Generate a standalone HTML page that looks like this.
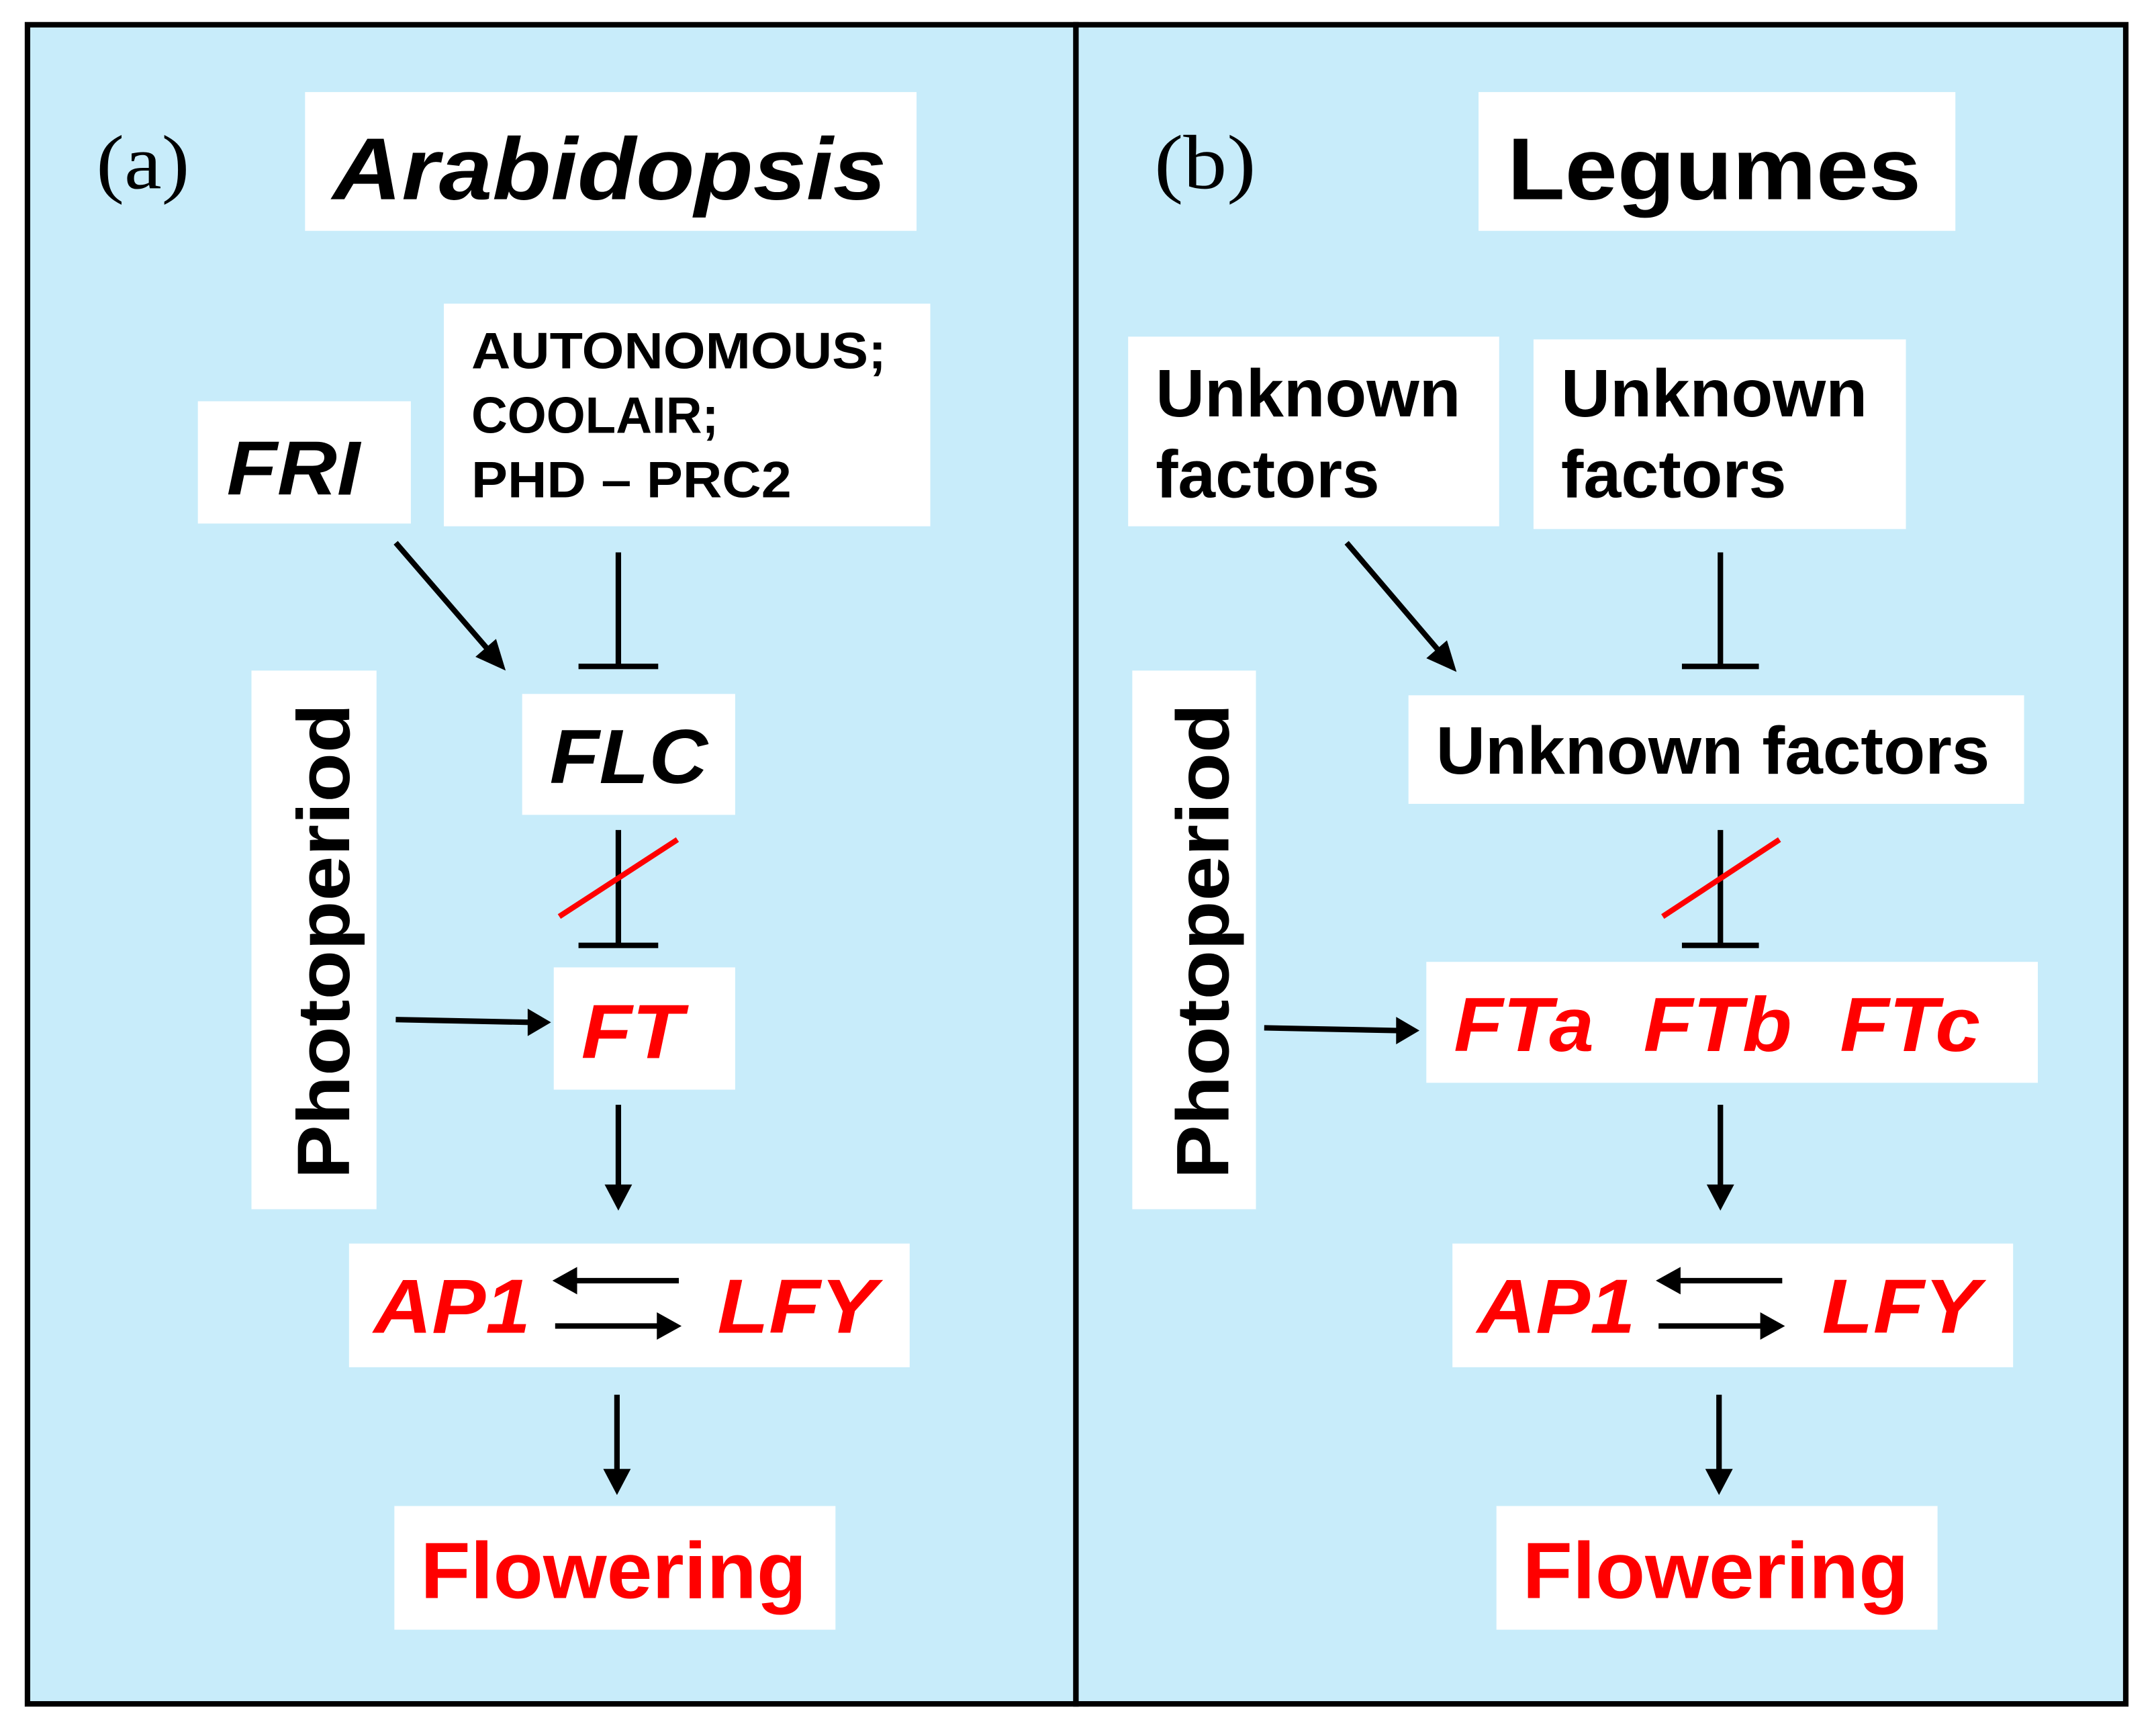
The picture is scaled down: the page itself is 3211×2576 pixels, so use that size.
<!DOCTYPE html>
<html><head><meta charset="utf-8">
<style>html,body{margin:0;padding:0;background:#fff}svg{display:block}</style>
</head><body>
<svg width="3211" height="2576" viewBox="0 0 1569 1259" preserveAspectRatio="none" xmlns="http://www.w3.org/2000/svg">
<rect x="0" y="0" width="1569" height="1259" fill="#fff"/>
<rect x="20" y="18" width="763" height="1222" fill="#c8ecfa" stroke="#000" stroke-width="4"/>
<rect x="783" y="18" width="764" height="1222" fill="#c8ecfa" stroke="#000" stroke-width="4"/>
<g fill="#fff">
<rect x="222" y="67" width="445" height="101"/>
<rect x="323" y="221" width="354" height="162"/>
<rect x="144" y="292" width="155" height="89"/>
<rect x="380" y="505" width="155" height="88"/>
<rect x="183" y="488" width="91" height="392"/>
<rect x="403" y="704" width="132" height="89"/>
<rect x="254" y="905" width="408" height="90"/>
<rect x="287" y="1096" width="321" height="90"/>
<rect x="1076" y="67" width="347" height="101"/>
<rect x="821" y="245" width="270" height="138"/>
<rect x="1116" y="247" width="271" height="138"/>
<rect x="1025" y="506" width="448" height="79"/>
<rect x="824" y="488" width="90" height="392"/>
<rect x="1038" y="700" width="445" height="88"/>
<rect x="1057" y="905" width="408" height="90"/>
<rect x="1089" y="1096" width="321" height="90"/>
</g>
<g font-family="Liberation Sans, sans-serif" font-weight="bold">
<text x="70" y="137" font-family="Liberation Serif, serif" font-weight="normal" font-size="56" textLength="68" lengthAdjust="spacingAndGlyphs">(a)</text>
<text x="242" y="145" font-size="64" font-style="italic" textLength="403" lengthAdjust="spacingAndGlyphs">Arabidopsis</text>
<text x="343" y="268" font-size="37" textLength="302" lengthAdjust="spacingAndGlyphs">AUTONOMOUS;</text>
<text x="343" y="315" font-size="37" textLength="180" lengthAdjust="spacingAndGlyphs">COOLAIR;</text>
<text x="343" y="362" font-size="37" textLength="233" lengthAdjust="spacingAndGlyphs">PHD – PRC2</text>
<text x="165" y="360" font-size="56" font-style="italic" textLength="97" lengthAdjust="spacingAndGlyphs">FRI</text>
<text x="400" y="570" font-size="56" font-style="italic" textLength="115" lengthAdjust="spacingAndGlyphs">FLC</text>
<text transform="translate(254,512) rotate(-90)" x="-346" y="0" font-size="54" textLength="346" lengthAdjust="spacingAndGlyphs">Photoperiod</text>
<text x="423" y="770" font-size="56" font-style="italic" fill="#f00" textLength="74" lengthAdjust="spacingAndGlyphs">FT</text>
<text x="272" y="970" font-size="56" font-style="italic" fill="#f00" textLength="114" lengthAdjust="spacingAndGlyphs">AP1</text>
<text x="522" y="970" font-size="56" font-style="italic" fill="#f00" textLength="116" lengthAdjust="spacingAndGlyphs">LFY</text>
<text x="306" y="1163" font-size="58" fill="#f00" textLength="281" lengthAdjust="spacingAndGlyphs">Flowering</text>

<text x="840" y="137" font-family="Liberation Serif, serif" font-weight="normal" font-size="56" textLength="74" lengthAdjust="spacingAndGlyphs">(b)</text>
<text x="1097" y="145" font-size="64" textLength="301" lengthAdjust="spacingAndGlyphs">Legumes</text>
<text x="841" y="303" font-size="49" textLength="222" lengthAdjust="spacingAndGlyphs">Unknown</text>
<text x="841" y="362" font-size="49" textLength="163" lengthAdjust="spacingAndGlyphs">factors</text>
<text x="1136" y="303" font-size="49" textLength="223" lengthAdjust="spacingAndGlyphs">Unknown</text>
<text x="1136" y="362" font-size="49" textLength="164" lengthAdjust="spacingAndGlyphs">factors</text>
<text x="1045" y="563" font-size="49" textLength="403" lengthAdjust="spacingAndGlyphs">Unknown factors</text>
<text transform="translate(894,512) rotate(-90)" x="-346" y="0" font-size="54" textLength="346" lengthAdjust="spacingAndGlyphs">Photoperiod</text>
<text x="1058" y="765" font-size="56" font-style="italic" fill="#f00" textLength="102" lengthAdjust="spacingAndGlyphs">FTa</text>
<text x="1196" y="765" font-size="56" font-style="italic" fill="#f00" textLength="108" lengthAdjust="spacingAndGlyphs">FTb</text>
<text x="1339" y="765" font-size="56" font-style="italic" fill="#f00" textLength="102" lengthAdjust="spacingAndGlyphs">FTc</text>
<text x="1075" y="970" font-size="56" font-style="italic" fill="#f00" textLength="115" lengthAdjust="spacingAndGlyphs">AP1</text>
<text x="1326" y="970" font-size="56" font-style="italic" fill="#f00" textLength="115" lengthAdjust="spacingAndGlyphs">LFY</text>
<text x="1108" y="1163" font-size="58" fill="#f00" textLength="281" lengthAdjust="spacingAndGlyphs">Flowering</text>
</g>
<g stroke="#000" stroke-width="4" fill="none">
<line x1="288" y1="395" x2="358" y2="476"/>
<line x1="450" y1="402" x2="450" y2="485"/><line x1="421" y1="485" x2="479" y2="485"/>
<line x1="450" y1="604" x2="450" y2="688"/><line x1="421" y1="688" x2="479" y2="688"/>
<line x1="288" y1="742" x2="386" y2="744"/>
<line x1="450" y1="804" x2="450" y2="864"/>
<line x1="494" y1="932" x2="418" y2="932"/>
<line x1="404" y1="965" x2="480" y2="965"/>
<line x1="449" y1="1015" x2="449" y2="1071"/>
<line x1="980" y1="395" x2="1050" y2="477"/>
<line x1="1252" y1="402" x2="1252" y2="485"/><line x1="1224" y1="485" x2="1280" y2="485"/>
<line x1="1252" y1="604" x2="1252" y2="688"/><line x1="1224" y1="688" x2="1280" y2="688"/>
<line x1="920" y1="748" x2="1018" y2="750"/>
<line x1="1252" y1="804" x2="1252" y2="864"/>
<line x1="1297" y1="932" x2="1221" y2="932"/>
<line x1="1207" y1="965" x2="1283" y2="965"/>
<line x1="1251" y1="1015" x2="1251" y2="1071"/>
</g>
<g stroke="#f00" stroke-width="4">
<line x1="407" y1="667" x2="493" y2="611"/>
<line x1="1210" y1="667" x2="1295" y2="611"/>
</g>
<g fill="#000">
<polygon points="368,488 346,478 361,465"/>
<polygon points="401,744 384,734 384,754"/>
<polygon points="450,881 440,862 460,862"/>
<polygon points="402,932 420,922 420,942"/>
<polygon points="496,965 478,955 478,975"/>
<polygon points="449,1088 439,1069 459,1069"/>
<polygon points="1060,489 1038,479 1053,466"/>
<polygon points="1033,750 1016,740 1016,760"/>
<polygon points="1252,881 1242,862 1262,862"/>
<polygon points="1205,932 1223,922 1223,942"/>
<polygon points="1299,965 1281,955 1281,975"/>
<polygon points="1251,1088 1241,1069 1261,1069"/>
</g>
</svg>
</body></html>
